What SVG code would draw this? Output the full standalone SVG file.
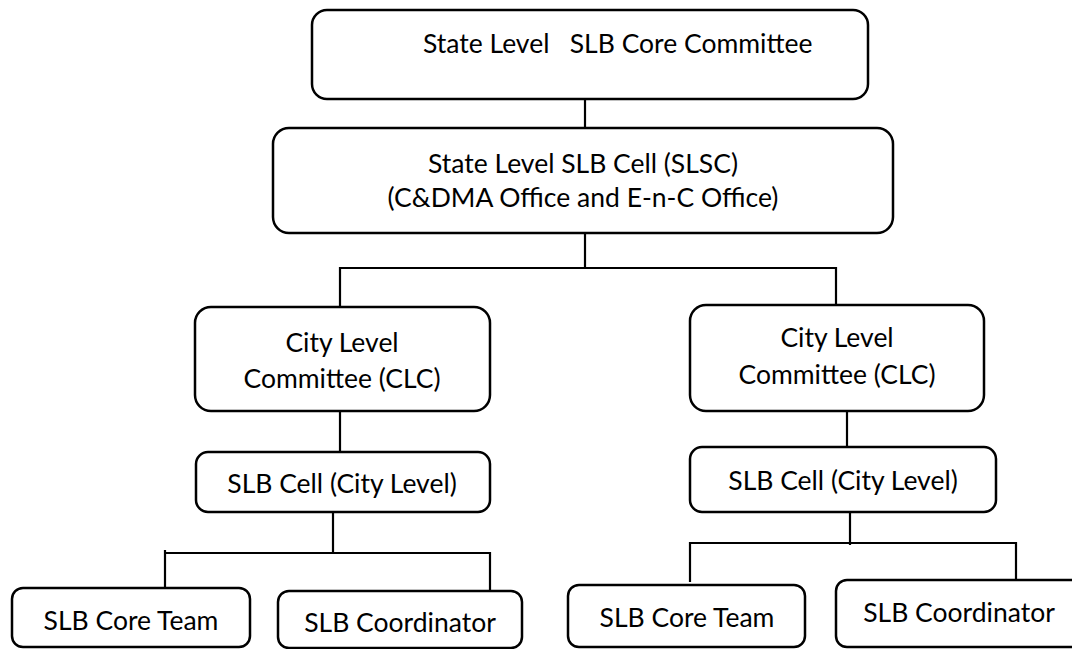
<svg xmlns="http://www.w3.org/2000/svg" width="1072" height="649" viewBox="0 0 1072 649">
  <style>
    .box { fill: #ffffff; stroke: #000000; stroke-width: 2.5; }
    .conn { fill: none; stroke: #000000; stroke-width: 2.2; }
    .lbl { font-family: Lato, "Open Sans", "Liberation Sans", sans-serif; font-size: 26.5px; fill: #000000; text-anchor: middle; }
  </style>
  <rect width="1072" height="649" fill="#ffffff"/>
  <g id="connectors">
    <line class="conn" x1="585" y1="99" x2="585" y2="128"/>
    <line class="conn" x1="585" y1="233" x2="585" y2="268"/>
    <polyline class="conn" points="340,307 340,268 836,268 836,305"/>
    <line class="conn" x1="340" y1="411" x2="340" y2="452"/>
    <line class="conn" x1="847" y1="411" x2="847" y2="447"/>
    <line class="conn" x1="333" y1="512" x2="333" y2="553"/>
    <polyline class="conn" points="165,588 165,550 165,553 490,553 490,592"/>
    <line class="conn" x1="850" y1="505" x2="850" y2="545"/>
    <polyline class="conn" points="690,582 690,543 1016,543 1016,580"/>
  </g>
  <g id="state-core-committee">
    <rect class="box" x="312" y="10" width="556" height="89" rx="15"/>
    <text class="lbl" x="423" y="53" style="text-anchor:start" xml:space="preserve">State Level   SLB Core Committee</text>
  </g>
  <g id="slsc">
    <rect class="box" x="273" y="128" width="620" height="105" rx="16"/>
    <text class="lbl" x="583" y="173">State Level SLB Cell (SLSC)</text>
    <text class="lbl" x="583" y="207">(C&amp;DMA Office and E-n-C Office)</text>
  </g>
  <g id="clc-left">
    <rect class="box" x="195" y="307" width="295" height="104" rx="16"/>
    <text class="lbl" x="342" y="352">City Level</text>
    <text class="lbl" x="342" y="388">Committee (CLC)</text>
  </g>
  <g id="clc-right">
    <rect class="box" x="690" y="305" width="294" height="106" rx="16"/>
    <text class="lbl" x="837" y="347">City Level</text>
    <text class="lbl" x="837" y="384">Committee (CLC)</text>
  </g>
  <g id="cell-left">
    <rect class="box" x="196" y="452" width="294" height="60" rx="12"/>
    <text class="lbl" x="342" y="493">SLB Cell (City Level)</text>
  </g>
  <g id="cell-right">
    <rect class="box" x="690" y="447" width="306" height="65" rx="12"/>
    <text class="lbl" x="843" y="490">SLB Cell (City Level)</text>
  </g>
  <g id="core-team-left">
    <rect class="box" x="12" y="588" width="238" height="59" rx="11"/>
    <text class="lbl" x="131" y="630">SLB Core Team</text>
  </g>
  <g id="coordinator-left">
    <rect class="box" x="278" y="591" width="244" height="57" rx="11"/>
    <text class="lbl" x="400" y="632">SLB Coordinator</text>
  </g>
  <g id="core-team-right">
    <rect class="box" x="568" y="585" width="237" height="62" rx="11"/>
    <text class="lbl" x="687" y="627">SLB Core Team</text>
  </g>
  <g id="coordinator-right">
    <rect class="box" x="836" y="580" width="250" height="67" rx="11"/>
    <text class="lbl" x="959" y="622">SLB Coordinator</text>
  </g>
</svg>
